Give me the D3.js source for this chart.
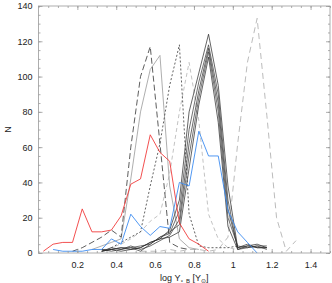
<!DOCTYPE html>
<html>
<head>
<meta charset="utf-8">
<script src="https://cdn.jsdelivr.net/npm/d3@7.9.0/dist/d3.min.js"></script>
<style>
  body { margin: 0; background: #fff; }
  svg { display: block; font-family: "Liberation Sans", Arial, sans-serif; }
</style>
</head>
<body>
<svg id="chart" width="332" height="283"></svg>
<script>
// bin centres of log Y (dex)
const bins = [0.025, 0.075, 0.125, 0.175, 0.225, 0.275, 0.325, 0.375, 0.425, 0.475,
  0.525, 0.575, 0.625, 0.675, 0.725, 0.775, 0.825, 0.875, 0.925, 0.975,
  1.025, 1.075, 1.125, 1.175, 1.225, 1.275, 1.325, 1.375, 1.425, 1.475];

const xTicks = [0.2, 0.4, 0.6, 0.8, 1, 1.2, 1.4];
const yTicks = [0, 20, 40, 60, 80, 100, 120, 140];

// counts per bin, each series starts at bins[start]
const redN = [1, 5, 6, 6, 25, 12, 12, 13, 21, 39, 42, 67, 57, 52, 17, 8, 5, 1];
const blueN = [2, 1, 1, 1, 2, 2, 8, 5, 22, 15, 10, 15, 14, 40, 38, 69, 55, 55, 24, 12, 6, 0];
const black1N = [1, 2, 3, 2, 3, 6, 8, 13, 30, 80, 102, 124, 95, 38, 3, 4, 5, 3];
const black2N = [2, 1, 2, 3, 1, 5, 9, 11, 24, 70, 97, 118, 90, 30, 2, 3, 4, 4];
const black3N = [1, 3, 2, 4, 2, 4, 7, 10, 19, 62, 92, 116, 85, 25, 3, 5, 3, 3];
const black4N = [2, 2, 3, 3, 4, 5, 9, 12, 16, 55, 88, 114, 80, 20, 4, 3, 4, 2];
const black5N = [1, 2, 1, 2, 3, 6, 8, 9, 12, 48, 84, 111, 74, 15, 2, 4, 3, 3];
const blackLongDashN = [1, 3, 6, 9, 13, 9, 60, 100, 117, 62, 6, 3, 2];
const blackShortDashN = [3, 6, 9, 12, 38, 62, 95, 118, 22, 4, 3, 3, 3, 4];
const greySolidN = [2, 4, 6, 8, 42, 80, 104, 112, 38, 8, 3, 2];
const greyDashN = [1, 3, 5, 8, 12, 18, 22, 45, 80, 108, 75, 22, 8, 3, 2];
const greyLongDashN = [1, 1, 1, 2, 1, 2, 2, 1, 2, 9, 62, 108, 133, 78, 20, 1, 7];

const series = [
  { values: greyLongDashN, start: 10, color: "#aaa", dash: "6,4", width: 0.8 },
  { values: greyDashN, start: 6, color: "#b4b4b4", dash: "4,3", width: 0.8 },
  { values: greySolidN, start: 5, color: "#999", dash: null, width: 0.8 },
  { values: blackLongDashN, start: 3, color: "#333", dash: "6,3", width: 0.8 },
  { values: blackShortDashN, start: 7, color: "#3a3a3a", dash: "2,2", width: 0.8 },
  { values: black1N, start: 6, color: "#222", dash: null, width: 0.7 },
  { values: black2N, start: 6, color: "#333", dash: null, width: 0.7 },
  { values: black3N, start: 6, color: "#2a2a2a", dash: null, width: 0.7 },
  { values: black4N, start: 6, color: "#3a3a3a", dash: null, width: 0.7 },
  { values: black5N, start: 6, color: "#222", dash: null, width: 0.7 },
  { values: blueN, start: 1, color: "#3d8cf0", dash: null, width: 0.9 },
  { values: redN, start: 0, color: "#f03c3c", dash: null, width: 0.9 }
];

const svg = d3.select("#chart");
const width = +svg.attr("width"), height = +svg.attr("height");
const margin = { top: 6, right: 2, bottom: 30, left: 38.5 };

const x = d3.scaleLinear().domain([0, 1.5]).range([margin.left, width - margin.right]);
const y = d3.scaleLinear().domain([0, 140]).range([height - margin.bottom, margin.top]);

const frameColor = "#999";

const plot = svg.append("g");
const line = d3.line().x(d => x(d[0])).y(d => y(d[1]));

series.forEach(s => {
  const pts = s.values.map((v, i) => [bins[s.start + i], v]);
  plot.append("path")
    .datum(pts)
    .attr("d", line)
    .attr("fill", "none")
    .attr("stroke", s.color)
    .attr("stroke-width", s.width)
    .attr("stroke-dasharray", s.dash);
});

// frame
svg.append("rect")
  .attr("x", margin.left)
  .attr("y", margin.top)
  .attr("width", width - margin.left - margin.right)
  .attr("height", height - margin.top - margin.bottom)
  .attr("fill", "none")
  .attr("stroke", frameColor)
  .attr("stroke-width", 0.8);

function styleAxis(g) {
  g.select(".domain").remove();
  g.selectAll(".tick line").attr("stroke", frameColor).attr("stroke-width", 0.8);
  g.selectAll(".tick text").attr("fill", "#222").style("font-size", "9px");
}

const xMinor = x.ticks(30);
const yMinor = y.ticks(28);

// bottom
svg.append("g")
  .attr("transform", `translate(0,${y(0)})`)
  .call(d3.axisBottom(x).tickValues(xMinor).tickSize(-2).tickFormat(""))
  .call(styleAxis);
svg.append("g")
  .attr("transform", `translate(0,${y(0)})`)
  .call(d3.axisBottom(x).tickValues(xTicks).tickSize(-4).tickPadding(9).tickFormat(d => String(d)))
  .call(styleAxis);
// top
svg.append("g")
  .attr("transform", `translate(0,${y(140)})`)
  .call(d3.axisTop(x).tickValues(xMinor).tickSize(-2).tickFormat(""))
  .call(styleAxis);
svg.append("g")
  .attr("transform", `translate(0,${y(140)})`)
  .call(d3.axisTop(x).tickValues(xTicks).tickSize(-4).tickFormat(""))
  .call(styleAxis);
// left
svg.append("g")
  .attr("transform", `translate(${x(0)},0)`)
  .call(d3.axisLeft(y).tickValues(yMinor).tickSize(-2).tickFormat(""))
  .call(styleAxis);
svg.append("g")
  .attr("transform", `translate(${x(0)},0)`)
  .call(d3.axisLeft(y).tickValues(yTicks).tickSize(-4).tickPadding(6).tickFormat(d => String(d)))
  .call(styleAxis);
// right
svg.append("g")
  .attr("transform", `translate(${x(1.5)},0)`)
  .call(d3.axisRight(y).tickValues(yMinor).tickSize(-2).tickFormat(""))
  .call(styleAxis);
svg.append("g")
  .attr("transform", `translate(${x(1.5)},0)`)
  .call(d3.axisRight(y).tickValues(yTicks).tickSize(-4).tickFormat(""))
  .call(styleAxis);

// axis titles
const xLabel = svg.append("text")
  .attr("x", (margin.left + width - margin.right) / 2)
  .attr("y", height - 2)
  .attr("text-anchor", "middle")
  .attr("fill", "#222")
  .style("font-size", "9px");
xLabel.append("tspan").text("log \u03A5");
xLabel.append("tspan").attr("dy", 2).style("font-size", "6px").text("\u22C6 B");
xLabel.append("tspan").attr("dy", -2).text(" [\u03A5");
xLabel.append("tspan").attr("dy", 2).style("font-size", "6px").text("\u2299");
xLabel.append("tspan").attr("dy", -2).text("]");

svg.append("text")
  .attr("transform", "rotate(-90)")
  .attr("x", -(margin.top + height - margin.bottom) / 2)
  .attr("y", 11)
  .attr("text-anchor", "middle")
  .attr("fill", "#222")
  .style("font-size", "9px")
  .text("N");
</script>
</body>
</html>
